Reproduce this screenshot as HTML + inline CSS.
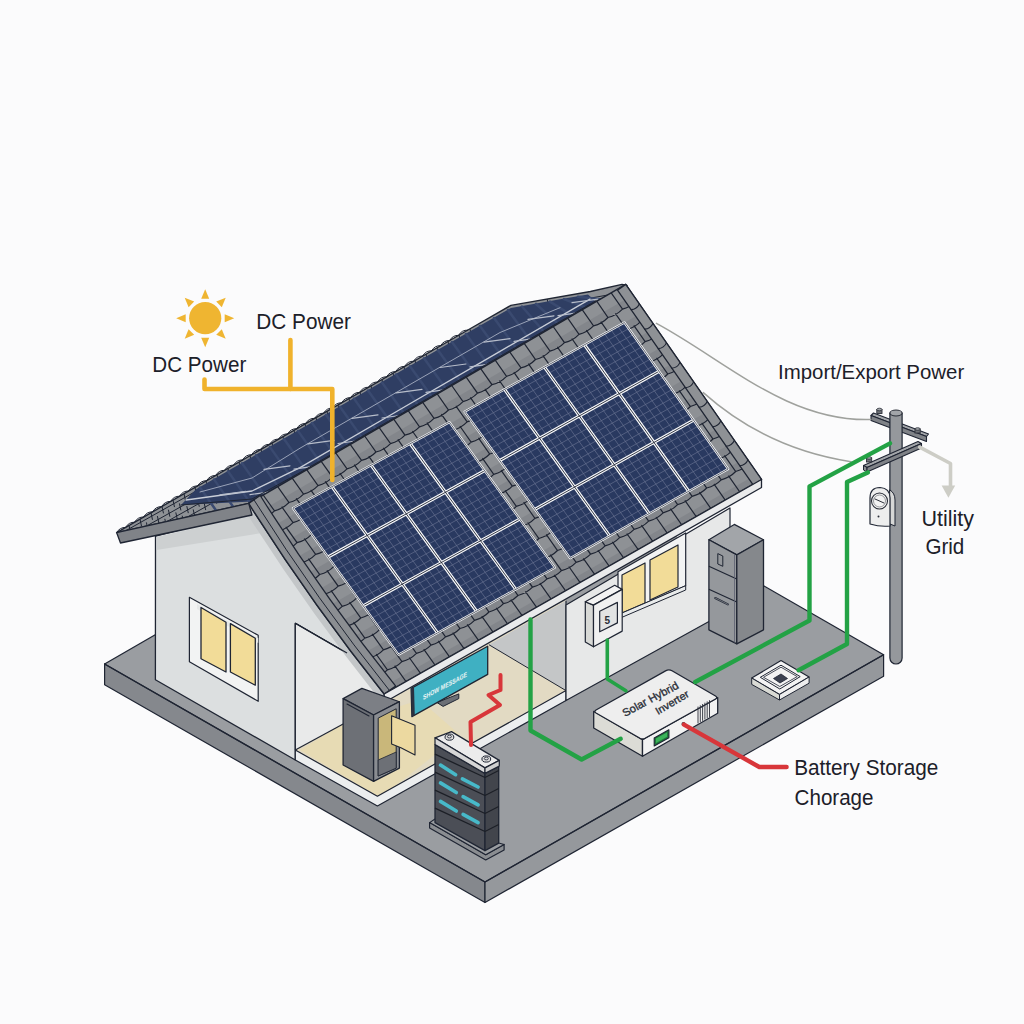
<!DOCTYPE html>
<html><head><meta charset="utf-8"><style>
html,body{margin:0;padding:0;background:#fbfbfc;}
svg{display:block;}
text{font-family:"Liberation Sans",sans-serif;}
</style></head><body>
<svg width="1024" height="1024" viewBox="0 0 1024 1024">
<rect width="1024" height="1024" fill="#fbfbfc"/>
<polygon points="104.6,664.0 485.0,882.0 883.6,654.7 501.0,436.0" fill="#9a9da1" stroke="none" stroke-width="1" stroke-linejoin="round" />
<polygon points="104.6,664.0 485.0,882.0 485.0,902.5 104.6,684.7" fill="#85888d" stroke="#1f2533" stroke-width="1.2" stroke-linejoin="round" />
<polygon points="485.0,882.0 883.6,654.7 883.6,676.2 485.0,902.5" fill="#95989c" stroke="#1f2533" stroke-width="1.2" stroke-linejoin="round" />
<path d="M104.6,664.0 L485.0,882.0 L883.6,654.7 L764,586" fill="none" stroke="#1f2533" stroke-width="1.3" stroke-linejoin="round" stroke-linecap="round" />
<path d="M104.6,664 L160,632" fill="none" stroke="#1f2533" stroke-width="1.3" stroke-linejoin="round" stroke-linecap="round" />
<polygon points="155.5,536.0 249.0,512.0 350.0,655.0 295.3,623.3 295.3,760.0 155.4,679.8" fill="#dcdfe0" stroke="#1f2533" stroke-width="1.3" stroke-linejoin="round" />
<polygon points="156.5,537.0 249.0,516.0 262.0,533.0 156.5,550.0" fill="#cdd0d1" stroke="none" stroke-width="1" stroke-linejoin="round" />
<polygon points="295.3,623.3 350.0,655.0 390.0,705.0 488.9,644.7 488.9,700.0 295.3,750.0" fill="#e9eaea" stroke="none" stroke-width="1" stroke-linejoin="round" />
<polygon points="345.0,723.0 384.0,700.0 489.0,640.0 566.0,600.0 566.0,690.6 377.4,796.2 295.3,750.0" fill="#e2dac3" stroke="none" stroke-width="1" stroke-linejoin="round" />
<polygon points="300.0,750.0 345.0,723.0 420.0,700.0 460.0,735.0 390.0,790.0 377.4,796.2" fill="#eadcae" stroke="none" stroke-width="1" stroke-linejoin="round" opacity="0.7"/>
<polygon points="488.9,644.7 566.0,600.7 566.0,690.6" fill="#c4c6c7" stroke="none" stroke-width="1" stroke-linejoin="round" />
<line x1="295.3" y1="623.3" x2="295.3" y2="750.0" stroke="#1f2533" stroke-width="1.3" />
<line x1="295.3" y1="623.3" x2="350.0" y2="655.0" stroke="#1f2533" stroke-width="1.3" />
<line x1="295.3" y1="750.0" x2="345.0" y2="723.0" stroke="#1f2533" stroke-width="1.2" />
<line x1="488.9" y1="644.7" x2="566.0" y2="690.6" stroke="#1f2533" stroke-width="1.0" />
<line x1="566.0" y1="600.7" x2="566.0" y2="690.6" stroke="#1f2533" stroke-width="1.2" />
<polygon points="295.3,750.0 377.4,796.2 566.0,690.6 566.0,700.6 377.4,806.0 295.3,760.0" fill="#eceeef" stroke="#1f2533" stroke-width="1.2" stroke-linejoin="round" />
<polygon points="566.0,605.0 730.0,508.0 730.0,610.0 707.6,622.2 566.0,700.6" fill="#e7e8e8" stroke="#1f2533" stroke-width="1.2" stroke-linejoin="round" />
<polygon points="189.4,597.3 258.2,635.3 258.2,701.3 189.4,661.7" fill="#f2f3f3" stroke="#1f2533" stroke-width="1.2" stroke-linejoin="round" />
<polygon points="197.0,604.0 258.2,638.0 258.2,643.0 197.0,609.0" fill="#e6e8e8" stroke="none" stroke-width="1" stroke-linejoin="round" />
<polygon points="201.0,607.5 226.0,622.2 226.0,672.0 201.0,658.8" fill="#f2dc98" stroke="#1f2533" stroke-width="1.3" stroke-linejoin="round" />
<polygon points="230.4,623.6 255.3,638.3 255.3,685.2 230.4,672.0" fill="#f2dc98" stroke="#1f2533" stroke-width="1.3" stroke-linejoin="round" />
<polygon points="618.0,571.7 685.7,533.0 685.7,585.7 618.0,614.7" fill="#f2f3f3" stroke="#1f2533" stroke-width="1.2" stroke-linejoin="round" />
<polygon points="622.0,575.0 645.0,563.0 645.0,603.0 622.0,613.0" fill="#f2dc98" stroke="#1f2533" stroke-width="1.2" stroke-linejoin="round" />
<polygon points="650.0,560.0 678.0,545.0 678.0,587.0 650.0,600.0" fill="#f2dc98" stroke="#1f2533" stroke-width="1.2" stroke-linejoin="round" />
<polygon points="618.0,614.7 685.7,585.7 685.7,590.0 618.0,619.0" fill="#e9ebeb" stroke="#1f2533" stroke-width="1.0" stroke-linejoin="round" />
<path d="M248.7,503.4 Q312,604 384.2,694 L378.4,698 Q306.2,608 242.9,507.4 Z" fill="#c3c6c8" stroke="none" stroke-width="1" stroke-linejoin="round" stroke-linecap="round" />
<line x1="295.3" y1="623.3" x2="347.0" y2="653.0" stroke="#1f2533" stroke-width="1.3" />
<polygon points="116.6,532.6 467.9,330.0 510.9,305.4 590.4,291.5 622.0,284.4 627.0,285.5 248.7,503.4" fill="#8e9195" stroke="#1f2533" stroke-width="1.4" stroke-linejoin="round" />
<defs><clipPath id="bp"><polygon points="116.6,532.6 467.9,330.0 510.9,305.4 590.4,291.5 622.0,284.4 627.0,285.5 248.7,503.4"/></clipPath></defs>
<g clip-path="url(#bp)"><path d="M110,539.6 L470,337.0 L511,312.4 L630,291.0 M110,546.6 L470,344.0 L511,319.4 L630,298.0 M110,553.6 L470,351.0 L511,326.4 L630,305.0 M110,560.6 L470,358.0 L511,333.4 L630,312.0 M118.0,531.8 l1.5,7 M124.4,535.1 l1.5,7 M120.8,544.2 l1.5,7 M127.2,547.5 l1.5,7 M129.0,525.4 l1.5,7 M135.4,528.8 l1.5,7 M131.8,537.8 l1.5,7 M138.2,541.1 l1.5,7 M140.0,519.1 l1.5,7 M146.4,522.4 l1.5,7 M142.8,531.5 l1.5,7 M149.2,534.8 l1.5,7 M151.0,512.8 l1.5,7 M157.4,516.1 l1.5,7 M153.8,525.1 l1.5,7 M160.2,528.4 l1.5,7 M162.0,506.4 l1.5,7 M168.4,509.7 l1.5,7 M164.8,518.8 l1.5,7 M171.2,522.1 l1.5,7 M173.0,500.1 l1.5,7 M179.4,503.4 l1.5,7 M175.8,512.4 l1.5,7 M182.2,515.7 l1.5,7 M184.0,493.7 l1.5,7 M190.4,497.0 l1.5,7 M186.8,506.1 l1.5,7 M193.2,509.4 l1.5,7 M195.0,487.4 l1.5,7 M201.4,490.7 l1.5,7 M197.8,499.7 l1.5,7 M204.2,503.1 l1.5,7 M206.0,481.0 l1.5,7 M212.4,484.3 l1.5,7 M208.8,493.4 l1.5,7 M215.2,496.7 l1.5,7 M217.0,474.7 l1.5,7 M223.4,478.0 l1.5,7 M219.8,487.1 l1.5,7 M226.2,490.4 l1.5,7 M228.0,468.3 l1.5,7 M234.4,471.6 l1.5,7 M230.8,480.7 l1.5,7 M237.2,484.0 l1.5,7 M239.0,462.0 l1.5,7 M245.4,465.3 l1.5,7 M241.8,474.4 l1.5,7 M248.2,477.7 l1.5,7 M250.0,455.6 l1.5,7 M256.4,458.9 l1.5,7 M252.8,468.0 l1.5,7 M259.2,471.3 l1.5,7 M261.0,449.3 l1.5,7 M267.4,452.6 l1.5,7 M263.8,461.7 l1.5,7 M270.2,465.0 l1.5,7 M272.0,442.9 l1.5,7 M278.4,446.2 l1.5,7 M274.8,455.3 l1.5,7 M281.2,458.6 l1.5,7 M283.0,436.6 l1.5,7 M289.4,439.9 l1.5,7 M285.8,449.0 l1.5,7 M292.2,452.3 l1.5,7 M294.0,430.2 l1.5,7 M300.4,433.5 l1.5,7 M296.8,442.6 l1.5,7 M303.2,445.9 l1.5,7 M305.0,423.9 l1.5,7 M311.4,427.2 l1.5,7 M307.8,436.3 l1.5,7 M314.2,439.6 l1.5,7 M316.0,417.5 l1.5,7 M322.4,420.9 l1.5,7 M318.8,429.9 l1.5,7 M325.2,433.2 l1.5,7 M327.0,411.2 l1.5,7 M333.4,414.5 l1.5,7 M329.8,423.6 l1.5,7 M336.2,426.9 l1.5,7 M338.0,404.9 l1.5,7 M344.4,408.2 l1.5,7 M340.8,417.2 l1.5,7 M347.2,420.5 l1.5,7 M349.0,398.5 l1.5,7 M355.4,401.8 l1.5,7 M351.8,410.9 l1.5,7 M358.2,414.2 l1.5,7 M360.0,392.2 l1.5,7 M366.4,395.5 l1.5,7 M362.8,404.5 l1.5,7 M369.2,407.8 l1.5,7 M371.0,385.8 l1.5,7 M377.4,389.1 l1.5,7 M373.8,398.2 l1.5,7 M380.2,401.5 l1.5,7 M382.0,379.5 l1.5,7 M388.4,382.8 l1.5,7 M384.8,391.8 l1.5,7 M391.2,395.2 l1.5,7 M393.0,373.1 l1.5,7 M399.4,376.4 l1.5,7 M395.8,385.5 l1.5,7 M402.2,388.8 l1.5,7 M404.0,366.8 l1.5,7 M410.4,370.1 l1.5,7 M406.8,379.2 l1.5,7 M413.2,382.5 l1.5,7 M415.0,360.4 l1.5,7 M421.4,363.7 l1.5,7 M417.8,372.8 l1.5,7 M424.2,376.1 l1.5,7 M426.0,354.1 l1.5,7 M432.4,357.4 l1.5,7 M428.8,366.5 l1.5,7 M435.2,369.8 l1.5,7 M437.0,347.7 l1.5,7 M443.4,351.0 l1.5,7 M439.8,360.1 l1.5,7 M446.2,363.4 l1.5,7 M448.0,341.4 l1.5,7 M454.4,344.7 l1.5,7 M450.8,353.8 l1.5,7 M457.2,357.1 l1.5,7 M459.0,335.0 l1.5,7 M465.4,338.3 l1.5,7 M461.8,347.4 l1.5,7 M468.2,350.9 l1.5,7 M470.0,329.2 l1.5,7 M476.4,333.6 l1.5,7 M472.8,342.0 l1.5,7 M479.2,346.5 l1.5,7 M481.0,324.8 l1.5,7 M487.4,329.2 l1.5,7 M483.8,337.6 l1.5,7 M490.2,342.1 l1.5,7 M492.0,320.4 l1.5,7 M498.4,324.8 l1.5,7 M494.8,333.2 l1.5,7 M501.2,337.7 l1.5,7 M503.0,316.0 l1.5,7 M509.4,320.4 l1.5,7 M505.8,328.8 l1.5,7 M512.2,333.3 l1.5,7 M514.0,311.6 l1.5,7 M520.4,316.0 l1.5,7 M516.8,324.4 l1.5,7 M523.2,328.9 l1.5,7 M525.0,307.2 l1.5,7 M531.4,311.6 l1.5,7 M527.8,320.0 l1.5,7 M534.2,324.5 l1.5,7 M536.0,302.8 l1.5,7 M542.4,307.2 l1.5,7 M538.8,315.6 l1.5,7 M545.2,320.1 l1.5,7 M547.0,298.4 l1.5,7 M553.4,302.8 l1.5,7 M549.8,311.2 l1.5,7 M556.2,315.7 l1.5,7 " fill="none" stroke="#1f2533" stroke-width="1"/></g>
<polygon points="181.0,505.0 196.0,489.3 300.0,429.3 400.0,371.6 467.9,332.4 510.9,307.9 560.0,299.3 588.0,294.4 596.0,301.7 500.0,357.4 400.0,415.5 300.0,473.6 252.0,501.5" fill="#2f3e63" stroke="none" stroke-width="1" stroke-linejoin="round" />
<path d="M200,487.5 L222,518.9 M214,479.4 L236,510.8 M228,471.3 L250,502.6 M242,463.2 L264,494.5 M256,455.2 L278,486.4 M270,447.1 L292,478.2 M284,439.0 L306,470.1 M298,430.9 L320,462.0 M312,422.9 L334,453.8 M326,414.8 L348,445.7 M340,406.7 L362,437.6 M354,398.6 L376,429.5 M368,390.5 L390,421.3 M382,382.5 L404,413.2 M396,374.4 L418,405.1 M410,366.3 L432,396.9 M424,358.2 L446,388.8 M438,350.2 L460,380.7 M452,342.1 L474,372.5 M466,334.0 L488,364.4 M480,326.1 L502,356.3 M494,318.1 L516,348.1 M508,310.1 L530,340.0 M522,306.5 L544,331.9 M536,304.0 L558,323.7 M550,301.6 L572,315.6 M564,299.1 L586,307.5 M578,296.7 L600,299.3 " fill="none" stroke="#3a4a70" stroke-width="2.5" stroke-linejoin="round" stroke-linecap="round" />
<path d="M186,500 L252,491 L300,467.6 L400,409.5 L500,351.4 L590,299.1" fill="none" stroke="#c9ced8" stroke-width="1.3" stroke-linejoin="round" stroke-linecap="round" />
<path d="M200,492 L252,478 L300,448.2 L400,390.3 L500,332.5 L560,307.7" fill="none" stroke="#9aa3b8" stroke-width="1.0" stroke-linejoin="round" stroke-linecap="round" />
<path d="M206.0,520.2 l28,-4 M220.0,494.8 l26,-3.5 M250.0,494.6 l28,-4 M264.0,469.3 l26,-3.5 M294.0,469.1 l28,-4 M308.0,443.9 l26,-3.5 M338.0,443.5 l28,-4 M352.0,418.4 l26,-3.5 M382.0,418.0 l28,-4 M396.0,392.9 l26,-3.5 M426.0,392.4 l28,-4 M440.0,367.5 l26,-3.5 M470.0,366.8 l28,-4 M484.0,342.1 l26,-3.5 M514.0,341.3 l28,-4 M528.0,319.3 l26,-3.5 M558.0,315.7 l28,-4 M572.0,302.7 l26,-3.5 " fill="none" stroke="#b7bdca" stroke-width="1.2" stroke-linejoin="round" stroke-linecap="round" />
<path d="M181,505 L252,499 L300,472.6 L400,414.5 L500,356.4 L596,300.7" fill="none" stroke="#1f2533" stroke-width="1.0" stroke-linejoin="round" stroke-linecap="round" />
<path d="M116.6,532.6 q3,-5.5 9,-5.2 M125.6,527.4 q3,-5.5 9,-5.2 M134.6,522.2 q3,-5.5 9,-5.2 M143.6,517.0 q3,-5.5 9,-5.2 M152.6,511.8 q3,-5.5 9,-5.2 M161.6,506.6 q3,-5.5 9,-5.2 M170.6,501.4 q3,-5.5 9,-5.2 M179.6,496.2 q3,-5.5 9,-5.2 M188.6,491.1 q3,-5.5 9,-5.2 M197.6,485.9 q3,-5.5 9,-5.2 M206.6,480.7 q3,-5.5 9,-5.2 M215.6,475.5 q3,-5.5 9,-5.2 M224.6,470.3 q3,-5.5 9,-5.2 M233.6,465.1 q3,-5.5 9,-5.2 M242.6,459.9 q3,-5.5 9,-5.2 M251.6,454.7 q3,-5.5 9,-5.2 M260.6,449.5 q3,-5.5 9,-5.2 M269.6,444.3 q3,-5.5 9,-5.2 M278.6,439.1 q3,-5.5 9,-5.2 M287.6,433.9 q3,-5.5 9,-5.2 M296.6,428.7 q3,-5.5 9,-5.2 M305.6,423.5 q3,-5.5 9,-5.2 M314.6,418.4 q3,-5.5 9,-5.2 M323.6,413.2 q3,-5.5 9,-5.2 M332.6,408.0 q3,-5.5 9,-5.2 M341.6,402.8 q3,-5.5 9,-5.2 M350.6,397.6 q3,-5.5 9,-5.2 M359.6,392.4 q3,-5.5 9,-5.2 M368.6,387.2 q3,-5.5 9,-5.2 M377.6,382.0 q3,-5.5 9,-5.2 M386.6,376.8 q3,-5.5 9,-5.2 M395.6,371.6 q3,-5.5 9,-5.2 M404.6,366.4 q3,-5.5 9,-5.2 M413.6,361.2 q3,-5.5 9,-5.2 M422.6,356.0 q3,-5.5 9,-5.2 M431.6,350.8 q3,-5.5 9,-5.2 M440.6,345.7 q3,-5.5 9,-5.2 M449.6,340.5 q3,-5.5 9,-5.2 M458.6,335.3 q3,-5.5 9,-5.2 " fill="none" stroke="#1f2533" stroke-width="1.0" stroke-linejoin="round" stroke-linecap="round" />
<defs><clipPath id="fp"><path d="M248.7,503.4 L625.7,284.4 L761.5,479.5 L384.2,694.0 Q312,604 248.7,503.4 Z"/></clipPath></defs>
<path d="M248.7,503.4 L625.7,284.4 L761.5,479.5 L384.2,694.0 Q312,604 248.7,503.4 Z" fill="#8e9195" stroke="#1f2533" stroke-width="1.5" stroke-linejoin="round" stroke-linecap="round" />
<g clip-path="url(#fp)"><path d="M237.2,524.7L651.9,284.0L655.9,289.7L241.1,530.2ZM248.5,540.5L663.2,300.3L667.2,306.0L252.4,546.1ZM259.8,556.4L674.5,316.6L678.5,322.3L263.7,561.9ZM271.1,572.3L685.9,332.9L689.8,338.6L275.0,577.8ZM282.4,588.1L697.2,349.1L701.1,354.8L286.3,593.7ZM293.6,604.0L708.5,365.4L712.5,371.1L297.6,609.5ZM304.9,619.8L719.8,381.7L723.8,387.4L308.9,625.4ZM316.2,635.7L731.1,398.0L735.1,403.7L320.2,641.3ZM327.5,651.6L742.4,414.2L746.4,419.9L331.5,657.1ZM338.8,667.4L753.8,430.5L757.7,436.2L342.8,673.0ZM350.1,683.3L765.1,446.8L769.0,452.5L354.0,688.9ZM361.4,699.2L776.4,463.1L780.4,468.8L365.3,704.7Z" fill="#6e7176" opacity="0.32"/><path d="M234.2,511.8L245.5,527.7Q254.1,525.4 260.0,519.3M248.7,503.4L260.0,519.3Q268.6,517.0 274.5,510.9M263.2,495.0L274.5,510.9Q283.1,508.6 289.0,502.5M277.7,486.6L289.0,502.5Q297.6,500.2 303.5,494.1M292.2,478.1L303.5,494.1Q312.1,491.8 318.0,485.6M306.7,469.7L318.0,485.6Q326.6,483.4 332.5,477.2M321.2,461.3L332.5,477.2Q341.1,475.0 347.0,468.8M335.7,452.9L347.0,468.8Q355.6,466.5 361.5,460.4M350.2,444.4L361.5,460.4Q370.1,458.1 376.0,452.0M364.7,436.0L376.0,452.0Q384.6,449.7 390.5,443.6M379.2,427.6L390.5,443.6Q399.1,441.3 405.0,435.2M393.7,419.2L405.0,435.2Q413.6,432.9 419.5,426.8M408.2,410.7L419.5,426.8Q428.1,424.5 434.0,418.4M422.7,402.3L434.0,418.4Q442.6,416.1 448.5,410.0M437.2,393.9L448.5,410.0Q457.1,407.7 463.0,401.6M451.7,385.5L463.0,401.6Q471.6,399.3 477.5,393.2M466.2,377.1L477.5,393.2Q486.1,390.9 492.0,384.7M480.7,368.6L492.0,384.7Q500.6,382.5 506.5,376.3M495.2,360.2L506.5,376.3Q515.1,374.1 521.0,367.9M509.7,351.8L521.0,367.9Q529.6,365.7 535.5,359.5M524.2,343.4L535.5,359.5Q544.1,357.3 550.0,351.1M538.7,334.9L550.0,351.1Q558.6,348.8 564.5,342.7M553.2,326.5L564.5,342.7Q573.1,340.4 579.0,334.3M567.7,318.1L579.0,334.3Q587.6,332.0 593.5,325.9M582.2,309.7L593.5,325.9Q602.1,323.6 608.0,317.5M596.7,301.2L608.0,317.5Q616.6,315.2 622.5,309.1M611.2,292.8L622.5,309.1Q631.1,306.8 637.0,300.7M625.7,284.4L637.0,300.7Q645.6,298.4 651.5,292.2M252.7,523.5L264.0,539.4Q272.6,537.1 278.5,531.0M267.2,515.1L278.5,531.0Q287.1,528.7 293.0,522.6M281.7,506.7L293.0,522.6Q301.6,520.3 307.5,514.2M296.2,498.3L307.5,514.2Q316.1,511.9 322.0,505.8M310.7,489.9L322.0,505.8Q330.6,503.5 336.5,497.4M325.2,481.4L336.5,497.4Q345.1,495.1 351.0,489.0M339.7,473.0L351.0,489.0Q359.7,486.7 365.5,480.6M354.2,464.6L365.5,480.6Q374.2,478.3 380.0,472.2M368.7,456.2L380.0,472.2Q388.7,469.9 394.5,463.8M383.2,447.8L394.5,463.8Q403.2,461.5 409.1,455.4M397.8,439.4L409.1,455.4Q417.7,453.1 423.6,447.0M412.3,431.0L423.6,447.0Q432.2,444.8 438.1,438.6M426.8,422.6L438.1,438.6Q446.7,436.4 452.6,430.2M441.3,414.2L452.6,430.2Q461.2,428.0 467.1,421.8M455.8,405.8L467.1,421.8Q475.7,419.6 481.6,413.5M470.3,397.4L481.6,413.5Q490.2,411.2 496.1,405.1M484.8,388.9L496.1,405.1Q504.7,402.8 510.6,396.7M499.3,380.5L510.6,396.7Q519.2,394.4 525.1,388.3M513.8,372.1L525.1,388.3Q533.7,386.0 539.6,379.9M528.3,363.7L539.6,379.9Q548.2,377.6 554.1,371.5M542.8,355.3L554.1,371.5Q562.7,369.2 568.6,363.1M557.3,346.9L568.6,363.1Q577.2,360.8 583.1,354.7M571.8,338.5L583.1,354.7Q591.7,352.4 597.6,346.3M586.3,330.1L597.6,346.3Q606.2,344.0 612.1,337.9M600.8,321.7L612.1,337.9Q620.7,335.7 626.6,329.5M615.3,313.3L626.6,329.5Q635.2,327.3 641.1,321.1M629.8,304.9L641.1,321.1Q649.7,318.9 655.6,312.7M644.3,296.5L655.6,312.7Q664.2,310.5 670.1,304.3M256.8,543.6L268.1,559.4Q276.7,557.1 282.6,551.0M271.3,535.2L282.6,551.0Q291.2,548.8 297.1,542.7M285.8,526.8L297.1,542.7Q305.7,540.4 311.6,534.3M300.3,518.4L311.6,534.3Q320.2,532.0 326.1,525.9M314.8,510.0L326.1,525.9Q334.7,523.6 340.6,517.5M329.3,501.6L340.6,517.5Q349.2,515.3 355.1,509.2M343.8,493.2L355.1,509.2Q363.7,506.9 369.6,500.8M358.3,484.8L369.6,500.8Q378.2,498.5 384.1,492.4M372.8,476.4L384.1,492.4Q392.7,490.1 398.6,484.0M387.3,468.0L398.6,484.0Q407.2,481.7 413.1,475.6M401.8,459.6L413.1,475.6Q421.7,473.4 427.6,467.3M416.3,451.2L427.6,467.3Q436.2,465.0 442.1,458.9M430.8,442.8L442.1,458.9Q450.7,456.6 456.6,450.5M445.3,434.4L456.6,450.5Q465.2,448.2 471.1,442.1M459.8,426.0L471.1,442.1Q479.7,439.9 485.6,433.7M474.3,417.6L485.6,433.7Q494.2,431.5 500.1,425.4M488.8,409.3L500.1,425.4Q508.7,423.1 514.6,417.0M503.3,400.9L514.6,417.0Q523.2,414.7 529.1,408.6M517.8,392.5L529.1,408.6Q537.7,406.3 543.6,400.2M532.3,384.1L543.6,400.2Q552.2,398.0 558.1,391.8M546.8,375.7L558.1,391.8Q566.7,389.6 572.6,383.5M561.3,367.3L572.6,383.5Q581.2,381.2 587.1,375.1M575.8,358.9L587.1,375.1Q595.7,372.8 601.6,366.7M590.3,350.5L601.6,366.7Q610.2,364.4 616.1,358.3M604.8,342.1L616.1,358.3Q624.8,356.1 630.6,349.9M619.3,333.7L630.6,349.9Q639.3,347.7 645.1,341.6M633.8,325.3L645.1,341.6Q653.8,339.3 659.7,333.2M648.3,316.9L659.7,333.2Q668.3,330.9 674.2,324.8M275.3,555.2L286.6,571.1Q295.2,568.8 301.1,562.8M289.8,546.9L301.1,562.8Q309.7,560.5 315.6,554.4M304.3,538.5L315.6,554.4Q324.2,552.1 330.1,546.0M318.8,530.1L330.1,546.0Q338.7,543.7 344.6,537.7M333.3,521.7L344.6,537.7Q353.2,535.4 359.1,529.3M347.8,513.3L359.1,529.3Q367.7,527.0 373.6,520.9M362.3,505.0L373.6,520.9Q382.2,518.7 388.1,512.6M376.8,496.6L388.1,512.6Q396.7,510.3 402.6,504.2M391.3,488.2L402.6,504.2Q411.3,501.9 417.1,495.8M405.8,479.8L417.1,495.8Q425.8,493.6 431.7,487.5M420.4,471.4L431.7,487.5Q440.3,485.2 446.2,479.1M434.9,463.1L446.2,479.1Q454.8,476.8 460.7,470.7M449.4,454.7L460.7,470.7Q469.3,468.5 475.2,462.4M463.9,446.3L475.2,462.4Q483.8,460.1 489.7,454.0M478.4,437.9L489.7,454.0Q498.3,451.7 504.2,445.6M492.9,429.5L504.2,445.6Q512.8,443.4 518.7,437.3M507.4,421.2L518.7,437.3Q527.3,435.0 533.2,428.9M521.9,412.8L533.2,428.9Q541.8,426.7 547.7,420.5M536.4,404.4L547.7,420.5Q556.3,418.3 562.2,412.2M550.9,396.0L562.2,412.2Q570.8,409.9 576.7,403.8M565.4,387.6L576.7,403.8Q585.3,401.6 591.2,395.4M579.9,379.3L591.2,395.4Q599.8,393.2 605.7,387.1M594.4,370.9L605.7,387.1Q614.3,384.8 620.2,378.7M608.9,362.5L620.2,378.7Q628.8,376.5 634.7,370.3M623.4,354.1L634.7,370.3Q643.3,368.1 649.2,362.0M637.9,345.7L649.2,362.0Q657.8,359.7 663.7,353.6M652.4,337.4L663.7,353.6Q672.3,351.4 678.2,345.3M666.9,329.0L678.2,345.3Q686.8,343.0 692.7,336.9M279.4,575.3L290.7,591.2Q299.3,588.9 305.2,582.8M293.9,566.9L305.2,582.8Q313.8,580.5 319.7,574.5M308.4,558.6L319.7,574.5Q328.3,572.2 334.2,566.1M322.9,550.2L334.2,566.1Q342.8,563.8 348.7,557.8M337.4,541.8L348.7,557.8Q357.3,555.5 363.2,549.4M351.9,533.5L363.2,549.4Q371.8,547.2 377.7,541.1M366.4,525.1L377.7,541.1Q386.3,538.8 392.2,532.7M380.9,516.7L392.2,532.7Q400.8,530.5 406.7,524.4M395.4,508.4L406.7,524.4Q415.3,522.1 421.2,516.0M409.9,500.0L421.2,516.0Q429.8,513.8 435.7,507.7M424.4,491.6L435.7,507.7Q444.3,505.4 450.2,499.3M438.9,483.3L450.2,499.3Q458.8,497.1 464.7,491.0M453.4,474.9L464.7,491.0Q473.3,488.7 479.2,482.6M467.9,466.5L479.2,482.6Q487.8,480.4 493.7,474.3M482.4,458.2L493.7,474.3Q502.3,472.0 508.2,465.9M496.9,449.8L508.2,465.9Q516.8,463.7 522.7,457.6M511.4,441.5L522.7,457.6Q531.3,455.3 537.2,449.2M525.9,433.1L537.2,449.2Q545.8,447.0 551.7,440.9M540.4,424.7L551.7,440.9Q560.3,438.6 566.2,432.5M554.9,416.4L566.2,432.5Q574.9,430.3 580.7,424.1M569.4,408.0L580.7,424.1Q589.4,421.9 595.3,415.8M583.9,399.6L595.3,415.8Q603.9,413.6 609.8,407.4M598.4,391.3L609.8,407.4Q618.4,405.2 624.3,399.1M613.0,382.9L624.3,399.1Q632.9,396.9 638.8,390.7M627.5,374.5L638.8,390.7Q647.4,388.5 653.3,382.4M642.0,366.2L653.3,382.4Q661.9,380.2 667.8,374.0M656.5,357.8L667.8,374.0Q676.4,371.8 682.3,365.7M671.0,349.4L682.3,365.7Q690.9,363.5 696.8,357.3M297.9,587.0L309.2,602.9Q317.8,600.6 323.7,594.5M312.4,578.6L323.7,594.5Q332.3,592.3 338.2,586.2M326.9,570.3L338.2,586.2Q346.8,583.9 352.7,577.9M341.4,561.9L352.7,577.9Q361.3,575.6 367.2,569.5M355.9,553.6L367.2,569.5Q375.8,567.3 381.7,561.2M370.4,545.2L381.7,561.2Q390.3,558.9 396.2,552.8M384.9,536.9L396.2,552.8Q404.8,550.6 410.7,544.5M399.4,528.5L410.7,544.5Q419.3,542.3 425.2,536.2M413.9,520.2L425.2,536.2Q433.9,533.9 439.7,527.8M428.4,511.8L439.7,527.8Q448.4,525.6 454.3,519.5M443.0,503.5L454.3,519.5Q462.9,517.3 468.8,511.2M457.5,495.1L468.8,511.2Q477.4,508.9 483.3,502.8M472.0,486.8L483.3,502.8Q491.9,500.6 497.8,494.5M486.5,478.4L497.8,494.5Q506.4,492.3 512.3,486.2M501.0,470.1L512.3,486.2Q520.9,483.9 526.8,477.8M515.5,461.7L526.8,477.8Q535.4,475.6 541.3,469.5M530.0,453.4L541.3,469.5Q549.9,467.2 555.8,461.1M544.5,445.0L555.8,461.1Q564.4,458.9 570.3,452.8M559.0,436.7L570.3,452.8Q578.9,450.6 584.8,444.5M573.5,428.3L584.8,444.5Q593.4,442.2 599.3,436.1M588.0,420.0L599.3,436.1Q607.9,433.9 613.8,427.8M602.5,411.6L613.8,427.8Q622.4,425.6 628.3,419.5M617.0,403.3L628.3,419.5Q636.9,417.2 642.8,411.1M631.5,394.9L642.8,411.1Q651.4,408.9 657.3,402.8M646.0,386.6L657.3,402.8Q665.9,400.6 671.8,394.5M660.5,378.2L671.8,394.5Q680.5,392.2 686.3,386.1M675.0,369.9L686.3,386.1Q695.0,383.9 700.9,377.8M689.5,361.5L700.9,377.8Q709.5,375.6 715.4,369.4M301.9,607.0L313.2,622.9Q321.8,620.6 327.7,614.6M316.4,598.7L327.7,614.6Q336.4,612.3 342.2,606.3M331.0,590.4L342.2,606.3Q350.9,604.0 356.8,597.9M345.5,582.0L356.8,597.9Q365.4,595.7 371.3,589.6M360.0,573.7L371.3,589.6Q379.9,587.4 385.8,581.3M374.5,565.4L385.8,581.3Q394.4,579.0 400.3,573.0M389.0,557.0L400.3,573.0Q408.9,570.7 414.8,564.7M403.5,548.7L414.8,564.7Q423.4,562.4 429.3,556.3M418.0,540.3L429.3,556.3Q437.9,554.1 443.8,548.0M432.5,532.0L443.8,548.0Q452.4,545.8 458.3,539.7M447.0,523.7L458.3,539.7Q466.9,537.4 472.8,531.4M461.5,515.3L472.8,531.4Q481.4,529.1 487.3,523.0M476.0,507.0L487.3,523.0Q495.9,520.8 501.8,514.7M490.5,498.7L501.8,514.7Q510.4,512.5 516.3,506.4M505.0,490.3L516.3,506.4Q524.9,504.2 530.8,498.1M519.5,482.0L530.8,498.1Q539.4,495.8 545.3,489.8M534.0,473.7L545.3,489.8Q554.0,487.5 559.8,481.4M548.5,465.3L559.8,481.4Q568.5,479.2 574.4,473.1M563.0,457.0L574.4,473.1Q583.0,470.9 588.9,464.8M577.6,448.6L588.9,464.8Q597.5,462.6 603.4,456.5M592.1,440.3L603.4,456.5Q612.0,454.2 617.9,448.1M606.6,432.0L617.9,448.1Q626.5,445.9 632.4,439.8M621.1,423.6L632.4,439.8Q641.0,437.6 646.9,431.5M635.6,415.3L646.9,431.5Q655.5,429.3 661.4,423.2M650.1,407.0L661.4,423.2Q670.0,421.0 675.9,414.9M664.6,398.6L675.9,414.9Q684.5,412.6 690.4,406.5M679.1,390.3L690.4,406.5Q699.0,404.3 704.9,398.2M693.6,381.9L704.9,398.2Q713.5,396.0 719.4,389.9M320.5,618.7L331.8,634.6Q340.4,632.4 346.3,626.3M335.0,610.4L346.3,626.3Q354.9,624.1 360.8,618.0M349.5,602.1L360.8,618.0Q369.4,615.8 375.3,609.7M364.0,593.8L375.3,609.7Q383.9,607.5 389.8,601.4M378.5,585.5L389.8,601.4Q398.4,599.1 404.3,593.1M393.0,577.1L404.3,593.1Q412.9,590.8 418.8,584.8M407.5,568.8L418.8,584.8Q427.4,582.5 433.3,576.5M422.0,560.5L433.3,576.5Q441.9,574.2 447.8,568.2M436.5,552.2L447.8,568.2Q456.5,565.9 462.3,559.9M451.0,543.8L462.3,559.9Q471.0,557.6 476.9,551.5M465.6,535.5L476.9,551.5Q485.5,549.3 491.4,543.2M480.1,527.2L491.4,543.2Q500.0,541.0 505.9,534.9M494.6,518.9L505.9,534.9Q514.5,532.7 520.4,526.6M509.1,510.6L520.4,526.6Q529.0,524.4 534.9,518.3M523.6,502.2L534.9,518.3Q543.5,516.1 549.4,510.0M538.1,493.9L549.4,510.0Q558.0,507.8 563.9,501.7M552.6,485.6L563.9,501.7Q572.5,499.5 578.4,493.4M567.1,477.3L578.4,493.4Q587.0,491.2 592.9,485.1M581.6,468.9L592.9,485.1Q601.5,482.9 607.4,476.8M596.1,460.6L607.4,476.8Q616.0,474.6 621.9,468.5M610.6,452.3L621.9,468.5Q630.5,466.3 636.4,460.2M625.1,444.0L636.4,460.2Q645.1,457.9 650.9,451.9M639.6,435.7L650.9,451.9Q659.6,449.6 665.5,443.5M654.1,427.3L665.5,443.5Q674.1,441.3 680.0,435.2M668.6,419.0L680.0,435.2Q688.6,433.0 694.5,426.9M683.2,410.7L694.5,426.9Q703.1,424.7 709.0,418.6M697.7,402.4L709.0,418.6Q717.6,416.4 723.5,410.3M712.2,394.0L723.5,410.3Q732.1,408.1 738.0,402.0M324.5,638.8L335.8,654.6Q344.4,652.4 350.3,646.4M339.0,630.5L350.3,646.4Q358.9,644.1 364.8,638.1M353.5,622.2L364.8,638.1Q373.4,635.8 379.3,629.8M368.0,613.9L379.3,629.8Q388.0,627.5 393.9,621.5M382.6,605.5L393.9,621.5Q402.5,619.2 408.4,613.2M397.1,597.2L408.4,613.2Q417.0,610.9 422.9,604.9M411.6,588.9L422.9,604.9Q431.5,602.7 437.4,596.6M426.1,580.6L437.4,596.6Q446.0,594.4 451.9,588.3M440.6,572.3L451.9,588.3Q460.5,586.1 466.4,580.0M455.1,564.0L466.4,580.0Q475.0,577.8 480.9,571.7M469.6,555.7L480.9,571.7Q489.5,569.5 495.4,563.4M484.1,547.4L495.4,563.4Q504.0,561.2 509.9,555.1M498.6,539.1L509.9,555.1Q518.5,552.9 524.4,546.8M513.1,530.8L524.4,546.8Q533.0,544.6 538.9,538.5M527.6,522.5L538.9,538.5Q547.5,536.3 553.4,530.2M542.1,514.2L553.4,530.2Q562.1,528.0 568.0,522.0M556.6,505.9L568.0,522.0Q576.6,519.7 582.5,513.7M571.2,497.5L582.5,513.7Q591.1,511.4 597.0,505.4M585.7,489.2L597.0,505.4Q605.6,503.2 611.5,497.1M600.2,480.9L611.5,497.1Q620.1,494.9 626.0,488.8M614.7,472.6L626.0,488.8Q634.6,486.6 640.5,480.5M629.2,464.3L640.5,480.5Q649.1,478.3 655.0,472.2M643.7,456.0L655.0,472.2Q663.6,470.0 669.5,463.9M658.2,447.7L669.5,463.9Q678.1,461.7 684.0,455.6M672.7,439.4L684.0,455.6Q692.6,453.4 698.5,447.3M687.2,431.1L698.5,447.3Q707.1,445.1 713.0,439.0M701.7,422.8L713.0,439.0Q721.7,436.8 727.5,430.7M716.2,414.5L727.5,430.7Q736.2,428.5 742.1,422.4M343.1,650.5L354.4,666.4Q363.0,664.1 368.9,658.1M357.6,642.2L368.9,658.1Q377.5,655.9 383.4,649.8M372.1,633.9L383.4,649.8Q392.0,647.6 397.9,641.5M386.6,625.6L397.9,641.5Q406.5,639.3 412.4,633.3M401.1,617.3L412.4,633.3Q421.0,631.0 426.9,625.0M415.6,609.0L426.9,625.0Q435.5,622.8 441.4,616.7M430.1,600.7L441.4,616.7Q450.0,614.5 455.9,608.4M444.6,592.4L455.9,608.4Q464.5,606.2 470.4,600.1M459.1,584.2L470.4,600.1Q479.0,597.9 484.9,591.9M473.6,575.9L484.9,591.9Q493.6,589.6 499.5,583.6M488.2,567.6L499.5,583.6Q508.1,581.4 514.0,575.3M502.7,559.3L514.0,575.3Q522.6,573.1 528.5,567.0M517.2,551.0L528.5,567.0Q537.1,564.8 543.0,558.7M531.7,542.7L543.0,558.7Q551.6,556.5 557.5,550.5M546.2,534.4L557.5,550.5Q566.1,548.3 572.0,542.2M560.7,526.1L572.0,542.2Q580.6,540.0 586.5,533.9M575.2,517.8L586.5,533.9Q595.1,531.7 601.0,525.6M589.7,509.5L601.0,525.6Q609.6,523.4 615.5,517.4M604.2,501.2L615.5,517.4Q624.1,515.2 630.0,509.1M618.7,492.9L630.0,509.1Q638.7,506.9 644.6,500.8M633.2,484.6L644.6,500.8Q653.2,498.6 659.1,492.5M647.8,476.3L659.1,492.5Q667.7,490.3 673.6,484.2M662.3,468.0L673.6,484.2Q682.2,482.0 688.1,476.0M676.8,459.8L688.1,476.0Q696.7,473.8 702.6,467.7M691.3,451.5L702.6,467.7Q711.2,465.5 717.1,459.4M705.8,443.2L717.1,459.4Q725.7,457.2 731.6,451.1M720.3,434.9L731.6,451.1Q740.2,448.9 746.1,442.8M734.8,426.6L746.1,442.8Q754.7,440.7 760.6,434.6M347.1,670.5L358.4,686.4Q367.0,684.2 372.9,678.1M361.6,662.2L372.9,678.1Q381.5,675.9 387.4,669.9M376.1,654.0L387.4,669.9Q396.0,667.6 401.9,661.6M390.6,645.7L401.9,661.6Q410.5,659.4 416.4,653.3M405.1,637.4L416.4,653.3Q425.1,651.1 431.0,645.1M419.7,629.1L431.0,645.1Q439.6,642.8 445.5,636.8M434.2,620.8L445.5,636.8Q454.1,634.6 460.0,628.5M448.7,612.6L460.0,628.5Q468.6,626.3 474.5,620.3M463.2,604.3L474.5,620.3Q483.1,618.1 489.0,612.0M477.7,596.0L489.0,612.0Q497.6,609.8 503.5,603.7M492.2,587.7L503.5,603.7Q512.1,601.5 518.0,595.5M506.7,579.4L518.0,595.5Q526.6,593.3 532.5,587.2M521.2,571.2L532.5,587.2Q541.1,585.0 547.0,578.9M535.7,562.9L547.0,578.9Q555.6,576.7 561.5,570.7M550.2,554.6L561.5,570.7Q570.2,568.5 576.1,562.4M564.8,546.3L576.1,562.4Q584.7,560.2 590.6,554.2M579.3,538.1L590.6,554.2Q599.2,552.0 605.1,545.9M593.8,529.8L605.1,545.9Q613.7,543.7 619.6,537.6M608.3,521.5L619.6,537.6Q628.2,535.4 634.1,529.4M622.8,513.2L634.1,529.4Q642.7,527.2 648.6,521.1M637.3,504.9L648.6,521.1Q657.2,518.9 663.1,512.8M651.8,496.7L663.1,512.8Q671.7,510.6 677.6,504.6M666.3,488.4L677.6,504.6Q686.2,502.4 692.1,496.3M680.8,480.1L692.1,496.3Q700.8,494.1 706.7,488.0M695.3,471.8L706.7,488.0Q715.3,485.8 721.2,479.8M709.8,463.5L721.2,479.8Q729.8,477.6 735.7,471.5M724.4,455.3L735.7,471.5Q744.3,469.3 750.2,463.2M738.9,447.0L750.2,463.2Q758.8,461.1 764.7,455.0M365.7,682.2L376.9,698.1Q385.6,695.9 391.5,689.9M380.2,674.0L391.5,689.9Q400.1,687.7 406.0,681.6M394.7,665.7L406.0,681.6Q414.6,679.4 420.5,673.4M409.2,657.5L420.5,673.4Q429.1,671.2 435.0,665.1M423.7,649.2L435.0,665.1Q443.6,662.9 449.5,656.9M438.2,640.9L449.5,656.9Q458.1,654.7 464.0,648.6M452.7,632.7L464.0,648.6Q472.6,646.4 478.5,640.4M467.2,624.4L478.5,640.4Q487.1,638.2 493.0,632.1M481.7,616.1L493.0,632.1Q501.6,629.9 507.5,623.9M496.2,607.9L507.5,623.9Q516.2,621.7 522.1,615.6M510.8,599.6L522.1,615.6Q530.7,613.4 536.6,607.4M525.3,591.3L536.6,607.4Q545.2,605.2 551.1,599.1M539.8,583.1L551.1,599.1Q559.7,596.9 565.6,590.9M554.3,574.8L565.6,590.9Q574.2,588.7 580.1,582.6M568.8,566.5L580.1,582.6Q588.7,580.4 594.6,574.4M583.3,558.3L594.6,574.4Q603.2,572.2 609.1,566.1M597.8,550.0L609.1,566.1Q617.7,563.9 623.6,557.9M612.3,541.8L623.6,557.9Q632.3,555.7 638.2,549.6M626.8,533.5L638.2,549.6Q646.8,547.4 652.7,541.4M641.4,525.2L652.7,541.4Q661.3,539.2 667.2,533.1M655.9,517.0L667.2,533.1Q675.8,530.9 681.7,524.9M670.4,508.7L681.7,524.9Q690.3,522.7 696.2,516.6M684.9,500.4L696.2,516.6Q704.8,514.4 710.7,508.4M699.4,492.2L710.7,508.4Q719.3,506.2 725.2,500.1M713.9,483.9L725.2,500.1Q733.8,497.9 739.7,491.9M728.4,475.6L739.7,491.9Q748.3,489.7 754.2,483.6M742.9,467.4L754.2,483.6Q762.9,481.5 768.8,475.4M757.4,459.1L768.8,475.4Q777.4,473.2 783.3,467.1" fill="none" stroke="#1f2533" stroke-width="1.2"/></g>
<path d="M248.7,503.4 Q312,604 384.2,694.0 L395.7,686.1 Q323.5,596.1 260.2,495.5 Z" fill="#8b8e92" stroke="#1f2533" stroke-width="1.3" stroke-linejoin="round" stroke-linecap="round" />
<path d="M253.9,499.8 Q317.2,600.4 389.4,690.4" fill="none" stroke="#1f2533" stroke-width="1.0" stroke-linejoin="round" stroke-linecap="round" />
<polygon points="625.7,284.4 761.5,479.5 753.3,485.2 617.5,290.1" fill="#8e9195" stroke="#1f2533" stroke-width="1.3" stroke-linejoin="round" />
<path d="M639.3,303.9 Q636.9,309.2 631.1,309.6 M652.9,323.4 Q650.5,328.7 644.7,329.1 M666.4,342.9 Q664.1,348.2 658.2,348.6 M680.0,362.4 Q677.6,367.8 671.8,368.2 M693.6,381.9 Q691.2,387.3 685.4,387.7 M707.2,401.5 Q704.8,406.8 699.0,407.2 M720.8,421.0 Q718.4,426.3 712.6,426.7 M734.3,440.5 Q732.0,445.8 726.1,446.2 M747.9,460.0 Q745.5,465.3 739.7,465.7 M761.5,479.5 Q759.1,484.8 753.3,485.2 " fill="none" stroke="#1f2533" stroke-width="1.1" stroke-linejoin="round" stroke-linecap="round" />
<polygon points="384.2,694.0 761.5,479.5 761.5,487.5 384.2,702.5" fill="#e9eaeb" stroke="#1f2533" stroke-width="1.3" stroke-linejoin="round" />
<polygon points="116.6,532.6 248.7,503.4 252.0,515.0 120.5,543.0" fill="#808388" stroke="#1f2533" stroke-width="1.3" stroke-linejoin="round" />
<polygon points="292.9,508.1 449.4,422.2 554.9,567.6 398.4,654.7" fill="#293960" stroke="none" stroke-width="0" stroke-linejoin="round" />
<path d="M292.9,508.1L398.4,654.7M299.4,504.5L404.9,651.1M305.9,500.9L411.4,647.4M312.5,497.4L418.0,643.8M319.0,493.8L424.5,640.2M325.5,490.2L431.0,636.6M332.0,486.6L437.5,632.9M338.5,483.0L444.0,629.3M345.1,479.5L450.6,625.7M351.6,475.9L457.1,622.0M358.1,472.3L463.6,618.4M364.6,468.7L470.1,614.8M371.1,465.1L476.6,611.2M377.7,461.6L483.2,607.5M384.2,458.0L489.7,603.9M390.7,454.4L496.2,600.3M397.2,450.8L502.7,596.6M403.8,447.3L509.3,593.0M410.3,443.7L515.8,589.4M416.8,440.1L522.3,585.7M423.3,436.5L528.8,582.1M429.8,432.9L535.3,578.5M436.4,429.4L541.9,574.9M442.9,425.8L548.4,571.2M449.4,422.2L554.9,567.6M292.9,508.1L449.4,422.2M297.3,514.2L453.8,428.3M301.7,520.3L458.2,434.3M306.1,526.4L462.6,440.4M310.5,532.5L467.0,446.4M314.9,538.6L471.4,452.5M319.3,544.8L475.8,458.6M323.7,550.9L480.2,464.6M328.1,557.0L484.6,470.7M332.5,563.1L489.0,476.7M336.9,569.2L493.4,482.8M341.3,575.3L497.8,488.8M345.6,581.4L502.1,494.9M350.0,587.5L506.5,501.0M354.4,593.6L510.9,507.0M358.8,599.7L515.3,513.1M363.2,605.8L519.7,519.1M367.6,611.9L524.1,525.2M372.0,618.1L528.5,531.2M376.4,624.2L532.9,537.3M380.8,630.3L537.3,543.4M385.2,636.4L541.7,549.4M389.6,642.5L546.1,555.5M394.0,648.6L550.5,561.5M398.4,654.7L554.9,567.6" stroke="#65708f" stroke-width="0.7" fill="none"/>
<path d="M332.0,486.6L437.5,632.9M371.1,465.1L476.6,611.2M410.3,443.7L515.8,589.4M328.1,557.0L484.6,470.7M363.2,605.8L519.7,519.1" stroke="#f6f7f9" stroke-width="3.2" fill="none"/>
<path d="M332.0,486.6L437.5,632.9M371.1,465.1L476.6,611.2M410.3,443.7L515.8,589.4M328.1,557.0L484.6,470.7M363.2,605.8L519.7,519.1" stroke="#1f2533" stroke-width="0.9" fill="none"/>
<polygon points="292.9,508.1 449.4,422.2 554.9,567.6 398.4,654.7" fill="none" stroke="#f6f7f9" stroke-width="2.2" stroke-linejoin="round" />
<polygon points="292.9,508.1 449.4,422.2 554.9,567.6 398.4,654.7" fill="none" stroke="#1f2533" stroke-width="0.7" stroke-linejoin="round" />
<polygon points="464.6,411.7 624.4,322.5 728.2,469.0 570.1,558.2" fill="#293960" stroke="none" stroke-width="0" stroke-linejoin="round" />
<path d="M464.6,411.7L570.1,558.2M471.3,408.0L576.7,554.5M477.9,404.3L583.3,550.8M484.6,400.6L589.9,547.1M491.2,396.8L596.5,543.3M497.9,393.1L603.0,539.6M504.6,389.4L609.6,535.9M511.2,385.7L616.2,532.2M517.9,382.0L622.8,528.5M524.5,378.2L629.4,524.8M531.2,374.5L636.0,521.0M537.8,370.8L642.6,517.3M544.5,367.1L649.2,513.6M551.2,363.4L655.7,509.9M557.8,359.7L662.3,506.2M564.5,355.9L668.9,502.5M571.1,352.2L675.5,498.7M577.8,348.5L682.1,495.0M584.5,344.8L688.7,491.3M591.1,341.1L695.3,487.6M597.8,337.4L701.9,483.9M604.4,333.6L708.4,480.1M611.1,329.9L715.0,476.4M617.7,326.2L721.6,472.7M624.4,322.5L728.2,469.0M464.6,411.7L624.4,322.5M469.0,417.8L628.7,328.6M473.4,423.9L633.0,334.7M477.8,430.0L637.4,340.8M482.2,436.1L641.7,346.9M486.6,442.2L646.0,353.0M491.0,448.3L650.4,359.1M495.4,454.4L654.7,365.2M499.8,460.5L659.0,371.3M504.2,466.6L663.3,377.4M508.6,472.7L667.6,383.5M513.0,478.8L672.0,389.6M517.4,485.0L676.3,395.8M521.7,491.1L680.6,401.9M526.1,497.2L685.0,408.0M530.5,503.3L689.3,414.1M534.9,509.4L693.6,420.2M539.3,515.5L697.9,426.3M543.7,521.6L702.2,432.4M548.1,527.7L706.6,438.5M552.5,533.8L710.9,444.6M556.9,539.9L715.2,450.7M561.3,546.0L719.6,456.8M565.7,552.1L723.9,462.9M570.1,558.2L728.2,469.0" stroke="#65708f" stroke-width="0.7" fill="none"/>
<path d="M504.6,389.4L609.6,535.9M544.5,367.1L649.2,513.6M584.5,344.8L688.7,491.3M499.8,460.5L659.0,371.3M534.9,509.4L693.6,420.2" stroke="#f6f7f9" stroke-width="3.2" fill="none"/>
<path d="M504.6,389.4L609.6,535.9M544.5,367.1L649.2,513.6M584.5,344.8L688.7,491.3M499.8,460.5L659.0,371.3M534.9,509.4L693.6,420.2" stroke="#1f2533" stroke-width="0.9" fill="none"/>
<polygon points="464.6,411.7 624.4,322.5 728.2,469.0 570.1,558.2" fill="none" stroke="#f6f7f9" stroke-width="2.2" stroke-linejoin="round" />
<polygon points="464.6,411.7 624.4,322.5 728.2,469.0 570.1,558.2" fill="none" stroke="#1f2533" stroke-width="0.7" stroke-linejoin="round" />
<polygon points="436.9,702.5 458.8,693.9 458.8,698.6 443.1,706.4" fill="#6c6f75" stroke="#1f2533" stroke-width="1.0" stroke-linejoin="round" />
<polygon points="411.1,688.4 487.7,646.2 487.7,674.4 411.9,716.6" fill="#3fb0c2" stroke="#1f2533" stroke-width="1.3" stroke-linejoin="round" />
<polygon points="411.1,688.4 414.0,687.0 414.8,715.0 411.9,716.6" fill="#2a3140" stroke="none" stroke-width="1" stroke-linejoin="round" />
<text x="0" y="0" font-family="Liberation Sans, sans-serif" font-size="7" font-weight="bold" fill="#e9f4f4" textLength="50" lengthAdjust="spacingAndGlyphs" transform="matrix(0.88,-0.47,0,1,423,700)">SHOW MESSAGE</text>
<polygon points="343.1,698.6 361.9,688.4 399.4,701.7 373.6,715.0" fill="#7c7f85" stroke="#1f2533" stroke-width="1.2" stroke-linejoin="round" />
<polygon points="343.1,698.6 373.6,715.0 373.6,781.4 343.1,765.0" fill="#6d7076" stroke="#1f2533" stroke-width="1.3" stroke-linejoin="round" />
<polygon points="373.6,715.0 399.4,701.7 399.4,768.1 373.6,781.4" fill="#8a8d92" stroke="#1f2533" stroke-width="1.3" stroke-linejoin="round" />
<polygon points="378.2,718.1 396.2,708.8 396.2,768.1 378.2,776.0" fill="#c9b77a" stroke="#1f2533" stroke-width="1.0" stroke-linejoin="round" />
<polygon points="378.2,760.0 396.2,752.0 396.2,768.1 378.2,776.0" fill="#6d7076" stroke="#1f2533" stroke-width="0.8" stroke-linejoin="round" />
<polygon points="391.6,715.8 415.0,725.2 415.0,755.0 400.9,747.8 391.6,744.0" fill="#ecd9a0" stroke="#1f2533" stroke-width="1.1" stroke-linejoin="round" />
<path d="M347,704 L369,716" fill="none" stroke="#1f2533" stroke-width="1.1" stroke-linejoin="round" stroke-linecap="round" />
<polygon points="585.3,601.7 593.5,605.1 593.5,646.8 585.3,642.0" fill="#d8d9d6" stroke="#1f2533" stroke-width="1.2" stroke-linejoin="round" />
<polygon points="585.3,601.7 614.7,585.3 622.2,589.4 593.5,605.1" fill="#f3f3f3" stroke="#1f2533" stroke-width="1.2" stroke-linejoin="round" />
<polygon points="593.5,605.1 622.2,589.4 622.2,631.1 593.5,646.8" fill="#f0f0f0" stroke="#1f2533" stroke-width="1.2" stroke-linejoin="round" />
<polygon points="599.7,611.3 617.4,602.4 617.4,622.9 599.7,631.8" fill="#e2e3e3" stroke="#1f2533" stroke-width="1.2" stroke-linejoin="round" />
<text x="604.5" y="624" font-family="Liberation Sans, sans-serif" font-size="10" font-weight="bold" fill="#2a2e38">5</text>
<polygon points="708.9,539.7 734.3,524.4 763.5,539.7 736.8,554.9" fill="#a2a5a9" stroke="#1f2533" stroke-width="1.2" stroke-linejoin="round" />
<polygon points="708.9,539.7 736.8,554.9 736.8,643.8 708.9,629.8" fill="#95989c" stroke="#1f2533" stroke-width="1.3" stroke-linejoin="round" />
<polygon points="736.8,554.9 763.5,539.7 763.5,629.8 736.8,643.8" fill="#85888c" stroke="#1f2533" stroke-width="1.3" stroke-linejoin="round" />
<line x1="708.9" y1="566.3" x2="736.8" y2="579.0" stroke="#1f2533" stroke-width="1.1" />
<line x1="708.9" y1="589.2" x2="736.8" y2="601.9" stroke="#1f2533" stroke-width="1.1" />
<line x1="734.5" y1="554.0" x2="734.5" y2="642.5" stroke="#5d6070" stroke-width="0.8" />
<polygon points="717.8,553.6 722.8,556.0 722.8,566.3 717.8,564.0" fill="none" stroke="#1f2533" stroke-width="1.0" stroke-linejoin="round" />
<path d="M715.2,598 L727.9,604.4" fill="none" stroke="#1f2533" stroke-width="2.0" stroke-linejoin="round" stroke-linecap="round" />
<path d="M715.2,598 L727.9,604.4" fill="none" stroke="#95989c" stroke-width="0.7" stroke-linejoin="round" stroke-linecap="round" />
<polygon points="751.7,678.1 781.0,660.5 809.1,677.0 779.5,694.5" fill="#f3f3f3" stroke="#1f2533" stroke-width="1.2" stroke-linejoin="round" />
<polygon points="751.7,678.1 779.5,694.5 779.5,700.0 751.7,684.4" fill="#d9dad4" stroke="#1f2533" stroke-width="1.0" stroke-linejoin="round" />
<polygon points="779.5,694.5 809.1,677.0 809.1,683.2 779.5,700.0" fill="#eeeeee" stroke="#1f2533" stroke-width="1.0" stroke-linejoin="round" />
<polygon points="760.3,677.3 781.0,665.2 800.2,676.6 779.8,689.0" fill="none" stroke="#1f2533" stroke-width="1.0" stroke-linejoin="round" />
<polygon points="763.5,677.3 781.0,667.2 797.2,676.6 779.8,686.5" fill="none" stroke="#1f2533" stroke-width="0.8" stroke-linejoin="round" />
<polygon points="773.5,678.5 781.0,674.0 787.5,678.5 780.0,683.0" fill="#3c4150" stroke="#1f2533" stroke-width="0.8" stroke-linejoin="round" />
<polygon points="593.7,711.3 642.5,739.6 642.5,756.2 593.7,728.0" fill="#dcdcd6" stroke="#1f2533" stroke-width="1.3" stroke-linejoin="round" />
<polygon points="642.5,739.6 717.7,697.6 717.7,713.2 642.5,756.2" fill="#f2f2f2" stroke="#1f2533" stroke-width="1.3" stroke-linejoin="round" />
<path d="M596,710 L666,670.6 Q669,669 672,670.8 L715.5,696 Q718,697.6 715.5,699 L645,738.3 Q642.5,739.6 640,738.3 L596,713 Q593.7,711.3 596,710 Z" fill="#eeeeee" stroke="#1f2533" stroke-width="1.3" stroke-linejoin="round" stroke-linecap="round" />
<path d="M698.0,707.0 l0,16 M700.3,705.7 l0,16 M702.6,704.4 l0,16 M704.9,703.1 l0,16 M707.2,701.8 l0,16 M709.5,700.6 l0,16 " fill="none" stroke="#2a2e38" stroke-width="0.9" stroke-linejoin="round" stroke-linecap="round" stroke-linecap="butt"/>
<polygon points="654.2,738.0 668.9,729.8 668.9,737.8 654.2,746.0" fill="#1f7a3a" stroke="#1f2533" stroke-width="1.1" stroke-linejoin="round" />
<polygon points="656.0,738.6 667.0,732.5 667.0,736.8 656.0,743.0" fill="#3cb35a" stroke="none" stroke-width="1" stroke-linejoin="round" />
<circle cx="683.5" cy="724" r="2" fill="#2a2e38"/>
<text x="0" y="0" font-family="Liberation Sans, sans-serif" font-size="11" fill="#2b2f38" stroke="#2b2f38" stroke-width="0.35" textLength="62" lengthAdjust="spacingAndGlyphs" transform="matrix(0.881,-0.472,0.5,0.87,625,717)">Solar Hybrid</text>
<text x="0" y="0" font-family="Liberation Sans, sans-serif" font-size="10.5" fill="#2b2f38" stroke="#2b2f38" stroke-width="0.35" textLength="37" lengthAdjust="spacingAndGlyphs" transform="matrix(0.86,-0.51,0.5,0.87,658,715)">Inverter</text>
<polygon points="429.6,822.6 485.7,854.7 504.1,844.5 504.1,850.0 485.7,860.0 429.6,828.0" fill="#8a8d91" stroke="#1f2533" stroke-width="1.2" stroke-linejoin="round" />
<polygon points="429.6,822.6 435.0,819.0 498.7,843.0 504.1,844.5 485.7,854.7" fill="#9a9da1" stroke="#1f2533" stroke-width="1.1" stroke-linejoin="round" />
<polygon points="435.0,744.6 485.0,773.4 485.0,850.6 435.0,822.6" fill="#4b4e56" stroke="#1f2533" stroke-width="1.3" stroke-linejoin="round" />
<polygon points="485.0,773.4 498.7,766.5 498.7,843.1 485.0,850.6" fill="#42454c" stroke="#1f2533" stroke-width="1.3" stroke-linejoin="round" />
<polygon points="435.0,737.8 451.5,731.6 499.3,760.4 485.0,767.9" fill="#ececec" stroke="#1f2533" stroke-width="1.3" stroke-linejoin="round" />
<polygon points="435.0,737.8 485.0,767.9 485.0,773.4 435.0,744.6" fill="#d6d6d6" stroke="#1f2533" stroke-width="1.2" stroke-linejoin="round" />
<polygon points="485.0,767.9 499.3,760.4 499.3,766.0 485.0,773.4" fill="#cfcfcf" stroke="#1f2533" stroke-width="1.2" stroke-linejoin="round" />
<ellipse cx="449.4" cy="737.1" rx="4.4" ry="3.1" fill="#dadada" stroke="#1f2533" stroke-width="1"/>
<ellipse cx="449.4" cy="736.6" rx="2" ry="1.4" fill="none" stroke="#1f2533" stroke-width="0.8"/>
<ellipse cx="486.3" cy="759" rx="4.4" ry="3.1" fill="#dadada" stroke="#1f2533" stroke-width="1"/>
<ellipse cx="486.3" cy="758.5" rx="2" ry="1.4" fill="none" stroke="#1f2533" stroke-width="0.8"/>
<line x1="435.0" y1="754.2" x2="485.0" y2="777.5" stroke="#1c1f26" stroke-width="1.3" />
<line x1="485.0" y1="777.5" x2="498.7" y2="770.5" stroke="#1c1f26" stroke-width="1.1" />
<line x1="435.0" y1="772.2" x2="485.0" y2="795.5" stroke="#1c1f26" stroke-width="1.3" />
<line x1="485.0" y1="795.5" x2="498.7" y2="788.5" stroke="#1c1f26" stroke-width="1.1" />
<line x1="435.0" y1="790.2" x2="485.0" y2="813.5" stroke="#1c1f26" stroke-width="1.3" />
<line x1="485.0" y1="813.5" x2="498.7" y2="806.5" stroke="#1c1f26" stroke-width="1.1" />
<line x1="435.0" y1="808.2" x2="485.0" y2="831.5" stroke="#1c1f26" stroke-width="1.3" />
<line x1="485.0" y1="831.5" x2="498.7" y2="824.5" stroke="#1c1f26" stroke-width="1.1" />
<line x1="440.5" y1="765.1" x2="455.6" y2="774.7" stroke="#47b9c9" stroke-width="3.6" stroke-linecap="round"/>
<line x1="462.4" y1="778.8" x2="478.1" y2="787.0" stroke="#47b9c9" stroke-width="3.6" stroke-linecap="round"/>
<line x1="440.5" y1="782.9" x2="456.3" y2="792.5" stroke="#47b9c9" stroke-width="3.6" stroke-linecap="round"/>
<line x1="463.1" y1="796.6" x2="478.1" y2="804.8" stroke="#47b9c9" stroke-width="3.6" stroke-linecap="round"/>
<line x1="440.5" y1="801.4" x2="456.3" y2="811.0" stroke="#47b9c9" stroke-width="3.6" stroke-linecap="round"/>
<line x1="463.1" y1="814.4" x2="478.1" y2="822.6" stroke="#47b9c9" stroke-width="3.6" stroke-linecap="round"/>
<polygon points="871.0,415.5 873.5,413.0 928.5,434.0 926.5,436.5" fill="#a3a6aa" stroke="#1f2533" stroke-width="1.1" stroke-linejoin="round" />
<polygon points="871.0,415.5 926.5,436.5 926.5,441.5 871.0,420.5" fill="#7f8287" stroke="#1f2533" stroke-width="1.1" stroke-linejoin="round" />
<path d="M889.9,413 L889.9,658 A6.1,6 0 0 0 902.1,658 L902.1,413 Z" fill="#95989c" stroke="#1f2533" stroke-width="1.2" stroke-linejoin="round" stroke-linecap="round" />
<ellipse cx="896" cy="413" rx="6.1" ry="3" fill="#a2a5a9" stroke="#2a2e38" stroke-width="1.1"/>
<polygon points="863.5,465.5 918.0,441.5 921.5,443.5 867.0,467.5" fill="#a3a6aa" stroke="#1f2533" stroke-width="1.1" stroke-linejoin="round" />
<polygon points="863.5,465.5 867.0,467.5 867.0,472.0 863.5,470.0" fill="#8a8d91" stroke="#1f2533" stroke-width="1.0" stroke-linejoin="round" />
<polygon points="867.0,467.5 921.5,443.5 921.5,448.0 867.0,472.0" fill="#7f8287" stroke="#1f2533" stroke-width="1.1" stroke-linejoin="round" />
<rect x="876.8" y="409.5" width="5.2" height="4" fill="#6f7277" stroke="#2a2e38" stroke-width="0.9"/>
<ellipse cx="879.4" cy="409.5" rx="2.6" ry="1.3" fill="#a0a3a7" stroke="#2a2e38" stroke-width="0.8"/>
<rect x="915.0" y="429" width="5.2" height="4" fill="#6f7277" stroke="#2a2e38" stroke-width="0.9"/>
<ellipse cx="917.6" cy="429" rx="2.6" ry="1.3" fill="#a0a3a7" stroke="#2a2e38" stroke-width="0.8"/>
<rect x="866.5" y="458" width="5.2" height="4" fill="#6f7277" stroke="#2a2e38" stroke-width="0.9"/>
<ellipse cx="869.1" cy="458" rx="2.6" ry="1.3" fill="#a0a3a7" stroke="#2a2e38" stroke-width="0.8"/>
<path d="M890,490 Q895,493 895,500 L895,526 L890,524 Z" fill="#d6d7d6" stroke="#1f2533" stroke-width="1.0" stroke-linejoin="round" stroke-linecap="round" />
<path d="M870,524 L870,498 Q870,487.5 880,487.5 Q890,488 890,498 L890,526 Q880,527 870,524 Z" fill="#eeeeee" stroke="#1f2533" stroke-width="1.2" stroke-linejoin="round" stroke-linecap="round" />
<circle cx="879.5" cy="501" r="8" fill="#f3f3f3" stroke="#2a2e38" stroke-width="1.1"/>
<circle cx="879.5" cy="501" r="6" fill="none" stroke="#5a5d63" stroke-width="0.6"/>
<path d="M875,499 L884,503" fill="none" stroke="#2a2e38" stroke-width="1.0" stroke-linejoin="round" stroke-linecap="round" />
<circle cx="878.5" cy="516.5" r="1" fill="#2a2e38"/>
<path d="M656.4,323.4 C725,360.2 787.4,422 870.8,419.5" fill="none" stroke="#9fa19d" stroke-width="1.5" stroke-linejoin="round" stroke-linecap="round" />
<path d="M703.3,392.6 Q766.3,448.7 851,461.7" fill="none" stroke="#9fa19d" stroke-width="1.5" stroke-linejoin="round" stroke-linecap="round" />
<path d="M530.5,619.5 L530.5,730.5 L581.6,759.5 L620.7,738.7" fill="none" stroke="#23a245" stroke-width="4.4" stroke-linejoin="round" stroke-linecap="round" />
<path d="M607.3,640 L607.3,679 L625.9,690.8" fill="none" stroke="#23a245" stroke-width="3.6" stroke-linejoin="round" stroke-linecap="round" />
<path d="M695.2,682 L809.5,620.5 L809.5,486.4 L890,443.4" fill="none" stroke="#23a245" stroke-width="4.4" stroke-linejoin="round" stroke-linecap="round" />
<path d="M798.6,670.3 L847,644 L847,482 L867.8,472.4" fill="none" stroke="#23a245" stroke-width="4.4" stroke-linejoin="round" stroke-linecap="round" />
<path d="M684,724.6 L759.3,767 L786.6,767" fill="none" stroke="#d8363a" stroke-width="4.4" stroke-linejoin="round" stroke-linecap="round" stroke-linecap="butt"/>
<path d="M500.5,675 L500.5,690 L488.5,695 L500,705 L470.5,722 L471,745" fill="none" stroke="#d8363a" stroke-width="4" stroke-linejoin="round" stroke-linecap="round" />
<path d="M290.4,340 L290.4,389" fill="none" stroke="#f0b22c" stroke-width="4.6" stroke-linejoin="round" stroke-linecap="round" />
<path d="M204.5,379.5 L204.5,389 L332.3,389 L332.3,480" fill="none" stroke="#f0b22c" stroke-width="4.6" stroke-linejoin="round" stroke-linecap="round" />
<path d="M919.7,447.2 L950.5,463.5 L950.5,486" fill="none" stroke="#cdcdc6" stroke-width="3.6" stroke-linejoin="round" stroke-linecap="round" stroke-linecap="butt"/>
<polygon points="941.6,485.4 955.2,485.4 948.4,497.7" fill="#cdcdc6" stroke="none" stroke-width="1" stroke-linejoin="round" />
<circle cx="205.2" cy="318.2" r="16.1" fill="#efb531"/>
<polygon points="205.2,289.2 209.2,298.7 201.2,298.7" fill="#efb531" stroke="none" stroke-width="1" stroke-linejoin="round" />
<polygon points="225.7,297.7 221.8,307.2 216.2,301.6" fill="#efb531" stroke="none" stroke-width="1" stroke-linejoin="round" />
<polygon points="234.2,318.2 224.7,322.2 224.7,314.2" fill="#efb531" stroke="none" stroke-width="1" stroke-linejoin="round" />
<polygon points="225.7,338.7 216.2,334.8 221.8,329.2" fill="#efb531" stroke="none" stroke-width="1" stroke-linejoin="round" />
<polygon points="205.2,347.2 201.2,337.7 209.2,337.7" fill="#efb531" stroke="none" stroke-width="1" stroke-linejoin="round" />
<polygon points="184.7,338.7 188.6,329.2 194.2,334.8" fill="#efb531" stroke="none" stroke-width="1" stroke-linejoin="round" />
<polygon points="176.2,318.2 185.7,314.2 185.7,322.2" fill="#efb531" stroke="none" stroke-width="1" stroke-linejoin="round" />
<polygon points="184.7,297.7 194.2,301.6 188.6,307.2" fill="#efb531" stroke="none" stroke-width="1" stroke-linejoin="round" />
<text x="256.30" y="329.20" font-family="Liberation Sans, sans-serif" font-size="22.38" fill="#1c2029" textLength="94.60" lengthAdjust="spacingAndGlyphs">DC Power</text>
<text x="152.30" y="372.00" font-family="Liberation Sans, sans-serif" font-size="21.37" fill="#1c2029" textLength="94.00" lengthAdjust="spacingAndGlyphs">DC Power</text>
<text x="778.00" y="379.00" font-family="Liberation Sans, sans-serif" font-size="19.62" fill="#1c2029" textLength="186.30" lengthAdjust="spacingAndGlyphs">Import/Export Power</text>
<text x="921.50" y="526.20" font-family="Liberation Sans, sans-serif" font-size="21.95" fill="#1c2029" textLength="52.50" lengthAdjust="spacingAndGlyphs">Utility</text>
<text x="925.40" y="554.00" font-family="Liberation Sans, sans-serif" font-size="21.8" fill="#1c2029" textLength="38.90" lengthAdjust="spacingAndGlyphs">Grid</text>
<text x="794.20" y="774.50" font-family="Liberation Sans, sans-serif" font-size="21.51" fill="#1c2029" textLength="144.10" lengthAdjust="spacingAndGlyphs">Battery Storage</text>
<text x="794.60" y="804.70" font-family="Liberation Sans, sans-serif" font-size="21.66" fill="#1c2029" textLength="78.90" lengthAdjust="spacingAndGlyphs">Chorage</text>
</svg></body></html>
